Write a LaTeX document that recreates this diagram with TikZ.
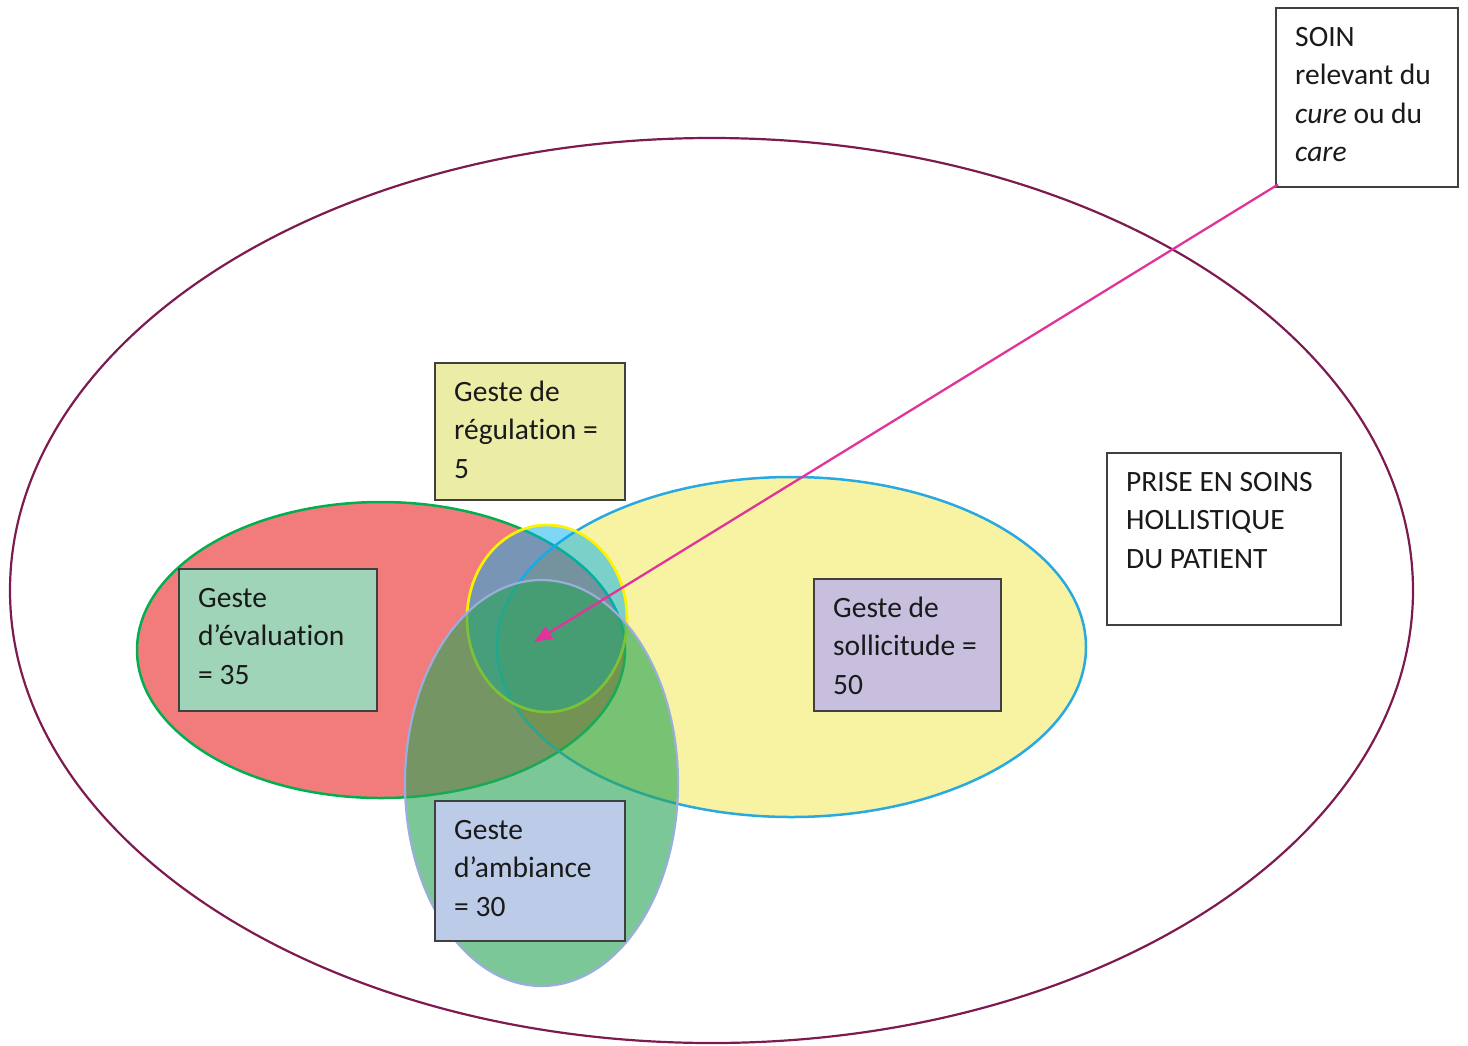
\documentclass[tikz,border=0pt]{standalone}
\usepackage{fontspec}
\setmainfont{Carlito}[Ligatures={NoCommon}]
\usetikzlibrary{arrows.meta,calc}
\definecolor{bigc}{HTML}{7D1A4F}
\definecolor{redf}{HTML}{F27B7B}
\definecolor{redb}{HTML}{00B050}
\definecolor{yelf}{HTML}{F8F3A2}
\definecolor{yelb}{HTML}{29A9E1}
\definecolor{rymix}{HTML}{EB754E}
\definecolor{regf}{HTML}{00B0F0}
\definecolor{regb}{HTML}{FFF200}
\definecolor{ambf}{HTML}{2AA558}
\definecolor{ambb}{HTML}{9AAEDC}
\definecolor{boxreg}{HTML}{EBEDA6}
\definecolor{boxeva}{HTML}{A0D4B8}
\definecolor{boxsol}{HTML}{C8BEDE}
\definecolor{boxamb}{HTML}{BCCCE8}
\definecolor{boxline}{HTML}{404040}
\definecolor{txtc}{HTML}{1A1A1A}
\definecolor{arrc}{HTML}{E0349A}
\tikzset{
  labbox/.style={draw=boxline, line width=1.5pt, rectangle, anchor=north west, inner sep=0pt},
  txt/.style={anchor=north west, align=left, inner xsep=20pt, inner ysep=9pt, text=txtc,
    font=\fontsize{29.5}{38.5}\selectfont},
}
\newcommand{\fl}{\rule{0pt}{30pt}}
\begin{document}
\begin{tikzpicture}[x=1pt,y=-1pt]
\useasboundingbox (0,0) rectangle (1468,1045);
% big ellipse
\draw[bigc, line width=2.2pt] (711.5,590.5) ellipse [x radius=701.5, y radius=452.5];
% red and yellow fills
\fill[redf] (381,650) ellipse [x radius=244, y radius=148];
\fill[yelf] (791.5,647) ellipse [x radius=294.5, y radius=170];
\begin{scope}
  \clip (381,650) ellipse [x radius=244, y radius=148];
  \fill[rymix] (791.5,647) ellipse [x radius=294.5, y radius=170];
\end{scope}
\draw[redb, line width=2.5pt] (381,650) ellipse [x radius=244, y radius=148];
\draw[yelb, line width=2.5pt] (791.5,647) ellipse [x radius=294.5, y radius=170];
% regulation circle
\fill[regf, fill opacity=0.5] (547,618.5) ellipse [x radius=80, y radius=93.5];
\draw[regb, line width=2.7pt] (547,618.5) ellipse [x radius=80, y radius=93.5];
% ambiance ellipse
\fill[ambf, fill opacity=0.62] (541.5,783) ellipse [x radius=136.5, y radius=203];
\draw[ambb, line width=2.2pt] (541.5,783) ellipse [x radius=136.5, y radius=203];
% boxes
\node[labbox, fill=boxreg, minimum width=190pt, minimum height=137pt] (reg) at (434,362) {};
\node[txt] (regt) at (reg.north west) {\fl Geste de\\régulation =\\5};
\node[labbox, fill=boxeva, minimum width=198pt, minimum height=142pt] (eva) at (178,568) {};
\node[txt] (evat) at (eva.north west) {\fl Geste\\d’évaluation\\= 35};
\node[labbox, fill=boxsol, minimum width=187pt, minimum height=132pt] (sol) at (813,578) {};
\node[txt] (solt) at (sol.north west) {\fl Geste de\\sollicitude =\\50};
\node[labbox, fill=boxamb, minimum width=190pt, minimum height=140pt] (amb) at (434,800) {};
\node[txt] (ambt) at (amb.north west) {\fl Geste\\d’ambiance\\= 30};
\node[labbox, fill=white, minimum width=234pt, minimum height=172pt] (pri) at (1106,452) {};
\node[txt] (prit) at (pri.north west) {\fl PRISE EN SOINS\\HOLLISTIQUE\\DU PATIENT};
\node[labbox, fill=white, minimum width=182pt, minimum height=179pt] (soin) at (1275,7) {};
\node[txt] (soint) at (soin.north west) {\fl SOIN\\relevant du\\\textit{cure} ou du\\\textit{care}};
% arrow
\coordinate (ctr) at (534,642);
\draw[arrc, line width=2.3pt, -{Triangle[length=18pt,width=14pt]}] ($(soin.south west)+(3,-3)$) -- (ctr);
\end{tikzpicture}
\end{document}
